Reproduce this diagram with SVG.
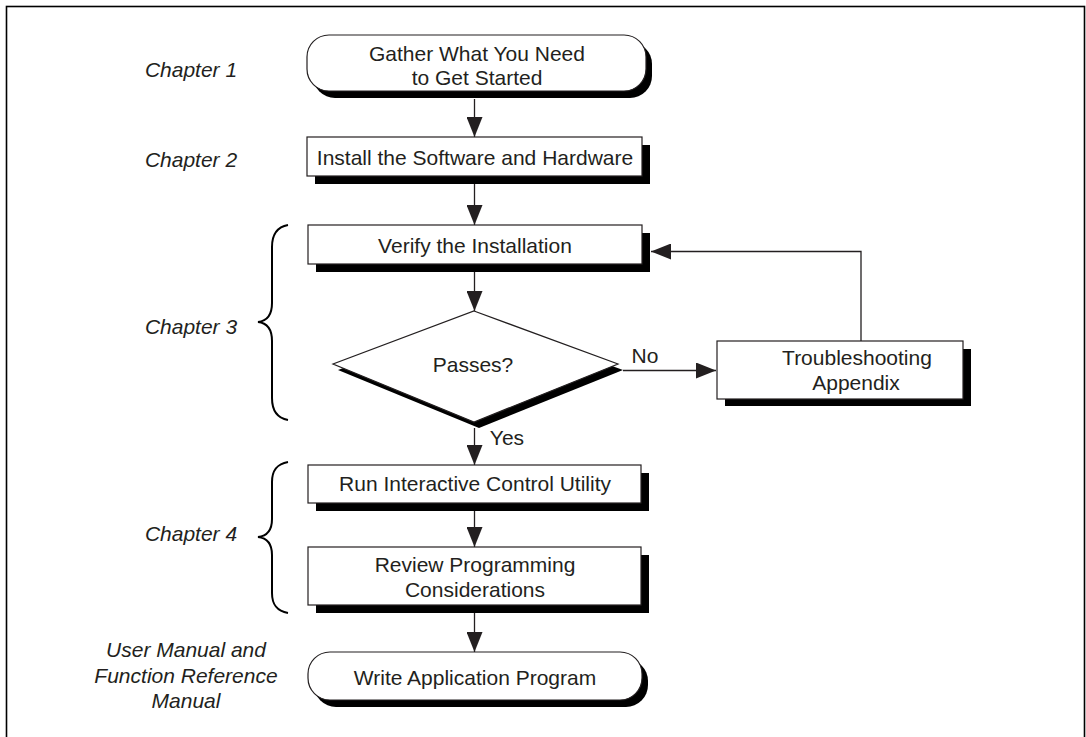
<svg xmlns="http://www.w3.org/2000/svg" width="1086" height="737" viewBox="0 0 1086 737">
<defs>
<style>
.box{fill:#fff;stroke:#231f20;stroke-width:1.2}
.sh{fill:#000}
.t{font-family:"Liberation Sans",Arial,sans-serif;font-size:21px;fill:#231f20;text-anchor:middle}
.ch{font-family:"Liberation Sans",Arial,sans-serif;font-size:21px;font-style:italic;fill:#231f20;text-anchor:middle}
.ln{fill:none;stroke:#231f20;stroke-width:1.3}
.br{fill:none;stroke:#000;stroke-width:2}
</style>
<marker id="ah" markerUnits="userSpaceOnUse" markerWidth="20" markerHeight="16" refX="20" refY="8" orient="auto" viewBox="0 0 20 16">
<path d="M0,0 L20,8 L0,16 z" fill="#231f20"/>
</marker>
</defs>
<rect x="6.5" y="6.5" width="1078" height="745" fill="none" stroke="#000" stroke-width="1.6"/>

<g id="labels">
<text class="ch" x="191" y="77">Chapter 1</text>
<text class="ch" x="191" y="167">Chapter 2</text>
<text class="ch" x="191" y="334">Chapter 3</text>
<text class="ch" x="191" y="541">Chapter 4</text>
<text class="ch" x="186" y="657">User Manual and</text>
<text class="ch" x="186" y="683">Function Reference</text>
<text class="ch" x="186" y="708">Manual</text>
</g>

<g id="braces">
<path class="br" d="M288,225 C277,227 272,234 272,247 L272,303 C272,315 267,321 258,322 C267,323 272,329 272,341 L272,398 C272,411 277,418 288,420"/>
<path class="br" d="M288,462 C277,464 272,470 272,482 L272,519 C272,530 267,536 258,537 C267,538 272,544 272,555 L272,593 C272,605 277,611 288,613"/>
</g>

<g id="n-gather">
<rect class="sh" x="313" y="42" width="339" height="56" rx="22" ry="22"/>
<rect class="box" x="307" y="35" width="339" height="56" rx="22" ry="22"/>
<text class="t" x="477" y="61">Gather What You Need</text>
<text class="t" x="477" y="85">to Get Started</text>
</g>

<g id="n-install">
<rect class="sh" x="315" y="145" width="335" height="39"/>
<rect class="box" x="307" y="137" width="335" height="39"/>
<text class="t" x="475" y="165">Install the Software and Hardware</text>
</g>

<g id="n-verify">
<rect class="sh" x="316" y="233" width="334" height="39"/>
<rect class="box" x="308" y="225" width="334" height="39"/>
<text class="t" x="475" y="253">Verify the Installation</text>
</g>

<g id="n-passes">
<polygon class="sh" points="479,317 623,370 479,428 338,370"/>
<polygon class="box" points="474,311 618,364 474,422 333,364"/>
<text class="t" x="473" y="372">Passes?</text>
</g>

<g id="n-trouble">
<rect class="sh" x="725" y="349" width="246" height="57"/>
<rect class="box" x="717" y="341" width="246" height="58"/>
<text class="t" x="857" y="365">Troubleshooting</text>
<text class="t" x="856" y="390">Appendix</text>
</g>

<g id="n-run">
<rect class="sh" x="316" y="473" width="333" height="38"/>
<rect class="box" x="308" y="465" width="333" height="38"/>
<text class="t" x="475" y="491">Run Interactive Control Utility</text>
</g>

<g id="n-review">
<rect class="sh" x="316" y="555" width="333" height="58"/>
<rect class="box" x="308" y="547" width="333" height="58"/>
<text class="t" x="475" y="572">Review Programming</text>
<text class="t" x="475" y="597">Considerations</text>
</g>

<g id="n-write">
<rect class="sh" x="314" y="659" width="334" height="48" rx="22" ry="22"/>
<rect class="box" x="308" y="652" width="334" height="48" rx="22" ry="22"/>
<text class="t" x="475" y="685">Write Application Program</text>
</g>

<g id="connectors">
<line class="ln" x1="474.5" y1="99" x2="474.5" y2="137" marker-end="url(#ah)"/>
<line class="ln" x1="474.5" y1="184" x2="474.5" y2="225" marker-end="url(#ah)"/>
<line class="ln" x1="474.5" y1="272" x2="474.5" y2="311" marker-end="url(#ah)"/>
<line class="ln" x1="623" y1="370.5" x2="716" y2="370.5" marker-end="url(#ah)"/>
<polyline class="ln" points="861,341 861,251.5 651,251.5" marker-end="url(#ah)"/>
<line class="ln" x1="474.5" y1="428" x2="474.5" y2="465" marker-end="url(#ah)"/>
<line class="ln" x1="474.5" y1="511" x2="474.5" y2="547" marker-end="url(#ah)"/>
<line class="ln" x1="474.5" y1="613" x2="474.5" y2="652" marker-end="url(#ah)"/>
<text class="t" x="645" y="363">No</text>
<text class="t" x="507" y="445">Yes</text>
</g>
</svg>
